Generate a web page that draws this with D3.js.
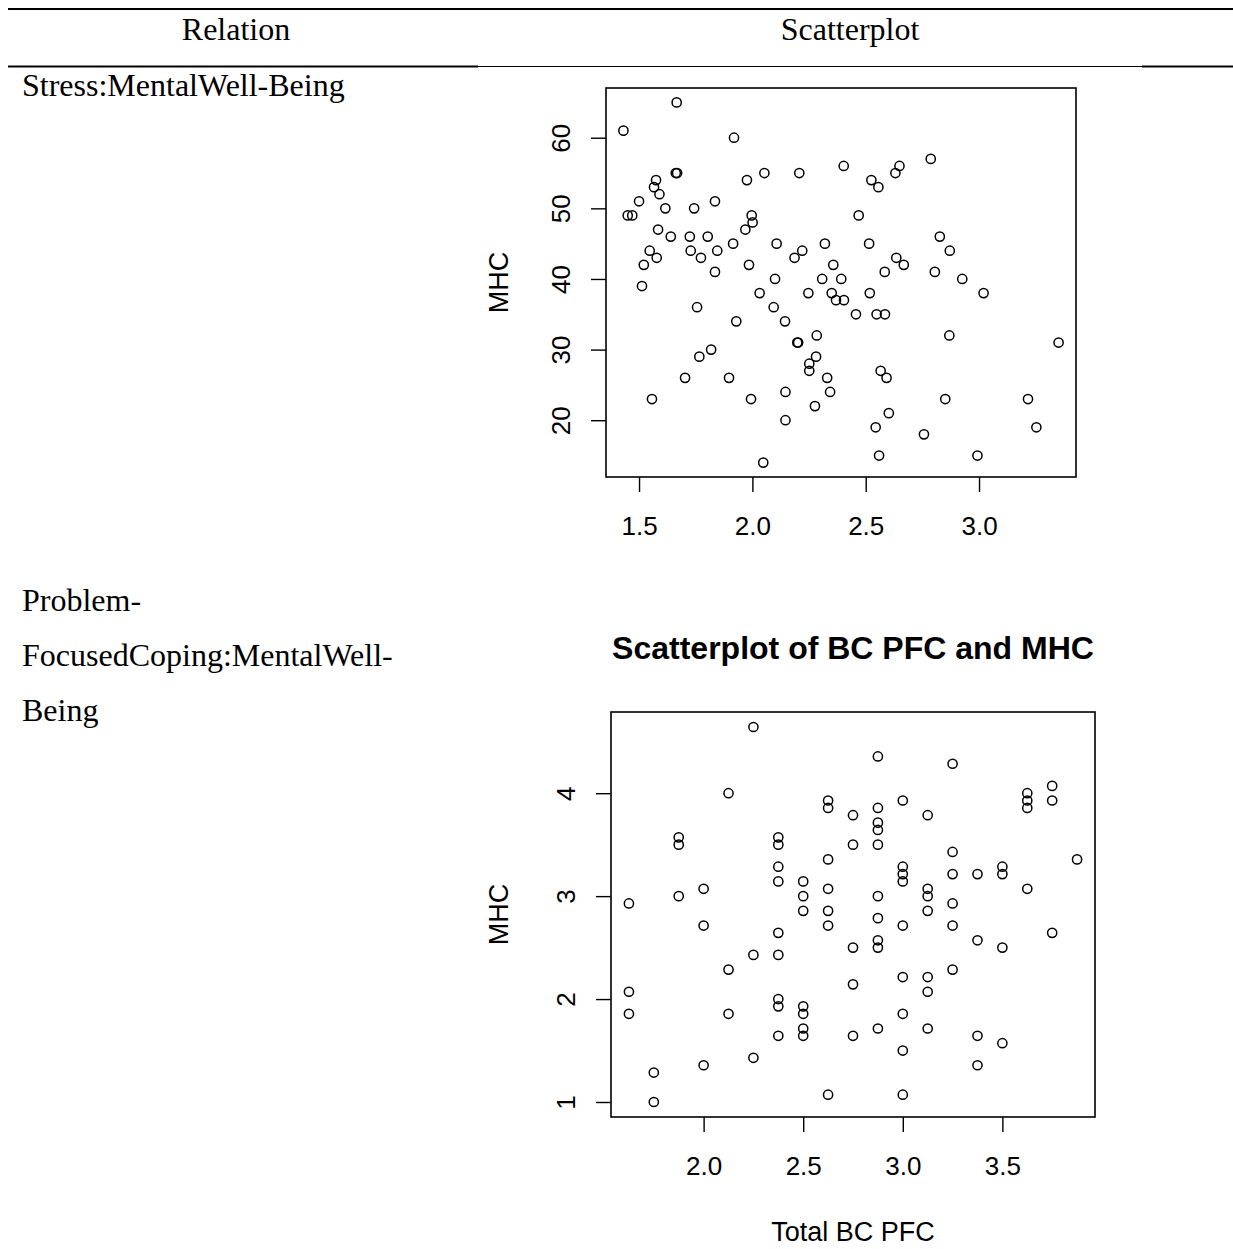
<!DOCTYPE html>
<html>
<head>
<meta charset="utf-8">
<script src="https://cdn.jsdelivr.net/npm/d3@7"></script>
<style>
  body { margin: 0; background: #fff; }
  svg { display: block; }
  .serif { font-family: "Liberation Serif", "Times New Roman", serif; font-size: 32px; fill: #000; }
  .sans { font-family: "Liberation Sans", Arial, sans-serif; fill: #000; }
</style>
</head>
<body>
<div id="chart"></div>
<script>
// Stress vs MHC (plot 1)
const stressX = [1.666, 1.431, 1.919, 1.662, 1.668, 1.575, 1.566, 1.590, 1.500, 1.450, 1.470, 1.616, 1.743,
  1.835, 1.976, 2.053, 2.207, 1.997, 2.001, 1.969, 1.584, 1.640, 1.724, 1.803, 1.915, 1.547, 1.728, 1.845,
  1.578, 1.773, 1.521, 1.835, 1.985, 2.107, 2.186, 2.220, 2.320, 2.357, 2.100, 2.308, 2.403, 2.525, 2.556,
  2.649, 2.631, 2.787, 2.469, 2.515, 2.827, 2.871, 2.635, 2.668, 2.584, 2.805, 2.926, 2.392, 1.513, 2.032,
  2.247, 2.350, 2.369, 2.404, 1.756, 2.094, 1.929, 2.144, 2.284, 2.198, 2.202, 1.818, 1.766, 2.281, 2.251,
  2.251, 1.703, 1.897, 2.330, 2.146, 2.343, 1.557, 1.994, 2.276, 2.146, 2.048, 2.518, 3.020, 2.457, 2.548,
  2.585, 2.869, 3.351, 2.566, 2.592, 2.851, 3.216, 2.602, 2.544, 3.253, 2.757, 2.559, 2.993];
const stressMHC = [65, 61, 60, 55, 55, 54, 53, 52, 51, 49, 49, 50, 50,
  51, 54, 55, 55, 49, 48, 47, 47, 46, 46, 46, 45, 44, 44, 44,
  43, 43, 42, 41, 42, 45, 43, 44, 45, 42, 40, 40, 56, 54, 53,
  56, 55, 57, 49, 45, 46, 44, 43, 42, 41, 41, 40, 40, 39, 38,
  38, 38, 37, 37, 36, 36, 34, 34, 32, 31, 31, 30, 29, 29, 28,
  27, 26, 26, 26, 24, 24, 23, 23, 22, 20, 14, 38, 38, 35, 35,
  35, 32, 31, 27, 26, 23, 23, 21, 19, 19, 18, 15, 15];
const stressXTicks = [1.5, 2.0, 2.5, 3.0];
const stressYTicks = [20, 30, 40, 50, 60];

// Total BC PFC vs MHC (plot 2)
const pfcX = [1.625, 1.625, 1.625, 1.75, 1.75, 1.875, 1.875, 1.875, 2.0, 2.0, 2.0,
  2.125, 2.125, 2.125, 2.25, 2.25, 2.25,
  2.375, 2.375, 2.375, 2.375, 2.375, 2.375, 2.375, 2.375, 2.375,
  2.5, 2.5, 2.5, 2.5, 2.5, 2.5, 2.5,
  2.625, 2.625, 2.625, 2.625, 2.625, 2.625, 2.625,
  2.75, 2.75, 2.75, 2.75, 2.75,
  2.875, 2.875, 2.875, 2.875, 2.875, 2.875, 2.875, 2.875, 2.875, 2.875,
  3.0, 3.0, 3.0, 3.0, 3.0, 3.0, 3.0, 3.0, 3.0,
  3.125, 3.125, 3.125, 3.125, 3.125, 3.125, 3.125,
  3.25, 3.25, 3.25, 3.25, 3.25, 3.25,
  3.375, 3.375, 3.375, 3.375, 3.5, 3.5, 3.5, 3.5,
  3.625, 3.625, 3.625, 3.625, 3.75, 3.75, 3.75, 3.875];
const pfcMHC = [2.929, 2.071, 1.857, 1.286, 1.000, 3.571, 3.500, 3.000, 3.071, 2.714, 1.357,
  4.000, 2.286, 1.857, 4.643, 2.429, 1.429,
  3.571, 3.500, 3.286, 3.143, 2.643, 2.429, 2.000, 1.929, 1.643,
  3.143, 3.000, 2.857, 1.929, 1.857, 1.714, 1.643,
  3.929, 3.857, 3.357, 3.071, 2.857, 2.714, 1.071,
  3.786, 3.500, 2.500, 2.143, 1.643,
  4.357, 3.857, 3.714, 3.643, 3.500, 3.000, 2.786, 2.571, 2.500, 1.714,
  3.929, 3.286, 3.214, 3.143, 2.714, 2.214, 1.857, 1.500, 1.071,
  3.786, 3.071, 3.000, 2.857, 2.214, 2.071, 1.714,
  4.286, 3.429, 3.214, 2.929, 2.714, 2.286,
  3.214, 2.571, 1.643, 1.357, 3.286, 3.214, 2.500, 1.571,
  4.000, 3.929, 3.857, 3.071, 4.071, 3.929, 2.643, 3.357];
const pfcXTicks = [2.0, 2.5, 3.0, 3.5];
const pfcYTicks = [1, 2, 3, 4];

const W = 1233, H = 1249;
const svg = d3.select('#chart').append('svg')
  .attr('width', W)
  .attr('height', H);

// table rules
svg.append('line').attr('x1', 8).attr('x2', W).attr('y1', 9).attr('y2', 9)
  .attr('stroke', '#000').attr('stroke-width', 2);
svg.append('line').attr('x1', 8).attr('x2', 478).attr('y1', 66.5).attr('y2', 66.5)
  .attr('stroke', '#000').attr('stroke-width', 1.8);
svg.append('line').attr('x1', 478).attr('x2', 1142).attr('y1', 66.5).attr('y2', 66.5)
  .attr('stroke', '#000').attr('stroke-width', 1);
svg.append('line').attr('x1', 1142).attr('x2', W).attr('y1', 66.5).attr('y2', 66.5)
  .attr('stroke', '#000').attr('stroke-width', 1.8);

svg.append('text').attr('class', 'serif').attr('x', 236).attr('y', 40)
  .attr('text-anchor', 'middle').text('Relation');
svg.append('text').attr('class', 'serif').attr('x', 850).attr('y', 40)
  .attr('text-anchor', 'middle').text('Scatterplot');

svg.append('text').attr('class', 'serif').attr('x', 22).attr('y', 96).text('Stress:MentalWell-Being');
[['Problem-', 611], ['FocusedCoping:MentalWell-', 666], ['Being', 721]].forEach(function(d) {
  svg.append('text').attr('class', 'serif').attr('x', 22).attr('y', d[1]).text(d[0]);
});

function extend(ext) {
  var pad = (ext[1] - ext[0]) * 0.04;
  return [ext[0] - pad, ext[1] + pad];
}

function drawScatter(opts) {
  var box = opts.box;
  var x = d3.scaleLinear()
    .domain(extend(d3.extent(opts.xs)))
    .range([box.x0, box.x1]);
  var y = d3.scaleLinear()
    .domain(extend(d3.extent(opts.ys)))
    .range([box.y1, box.y0]);

  var g = svg.append('g');

  var xAxis = g.append('g')
    .attr('transform', 'translate(0,' + box.y1 + ')')
    .call(d3.axisBottom(x).tickValues(opts.xTicks).tickFormat(d3.format('.1f')).tickSize(15).tickSizeOuter(0));
  xAxis.select('.domain').remove();
  xAxis.selectAll('line').attr('stroke', '#000').attr('stroke-width', 1.4);
  xAxis.selectAll('text')
    .attr('class', 'sans')
    .attr('y', 58).attr('dy', 0)
    .style('font-size', '26px');

  var yAxis = g.append('g')
    .attr('transform', 'translate(' + box.x0 + ',0)')
    .call(d3.axisLeft(y).tickValues(opts.yTicks).tickFormat(d3.format('d')).tickSize(15).tickSizeOuter(0));
  yAxis.select('.domain').remove();
  yAxis.selectAll('line').attr('stroke', '#000').attr('stroke-width', 1.4);
  yAxis.selectAll('text')
    .attr('class', 'sans')
    .attr('x', 0).attr('y', -36).attr('dy', 0)
    .attr('text-anchor', 'middle')
    .attr('transform', 'rotate(-90)')
    .style('font-size', '26px');

  g.append('rect')
    .attr('x', box.x0).attr('y', box.y0)
    .attr('width', box.x1 - box.x0).attr('height', box.y1 - box.y0)
    .attr('fill', 'none').attr('stroke', '#000').attr('stroke-width', 1.6);

  g.selectAll('.pt')
    .data(d3.range(opts.xs.length))
    .enter().append('circle')
    .attr('class', 'pt')
    .attr('cx', i => x(opts.xs[i]))
    .attr('cy', i => y(opts.ys[i]))
    .attr('r', 4.6)
    .attr('fill', 'none')
    .attr('stroke', '#000')
    .attr('stroke-width', 1.5);

  g.append('text')
    .attr('class', 'sans')
    .attr('transform', 'translate(508,' + ((box.y0 + box.y1) / 2) + ') rotate(-90)')
    .attr('text-anchor', 'middle')
    .style('font-size', '27px')
    .text('MHC');

  if (opts.xlab) {
    g.append('text')
      .attr('class', 'sans')
      .attr('x', (box.x0 + box.x1) / 2).attr('y', opts.xlabY)
      .attr('text-anchor', 'middle')
      .style('font-size', '27px')
      .text(opts.xlab);
  }
  if (opts.title) {
    g.append('text')
      .attr('class', 'sans')
      .attr('x', (box.x0 + box.x1) / 2).attr('y', opts.titleY)
      .attr('text-anchor', 'middle')
      .style('font-size', '32px')
      .style('font-weight', 'bold')
      .text(opts.title);
  }
}

drawScatter({
  box: { x0: 606, x1: 1076, y0: 88, y1: 477 },
  xs: stressX, ys: stressMHC,
  xTicks: stressXTicks, yTicks: stressYTicks
});

drawScatter({
  box: { x0: 611, x1: 1095, y0: 712, y1: 1117 },
  xs: pfcX, ys: pfcMHC,
  xTicks: pfcXTicks, yTicks: pfcYTicks,
  xlab: 'Total BC PFC', xlabY: 1241,
  title: 'Scatterplot of BC PFC and MHC', titleY: 659
});
</script>
</body>
</html>
